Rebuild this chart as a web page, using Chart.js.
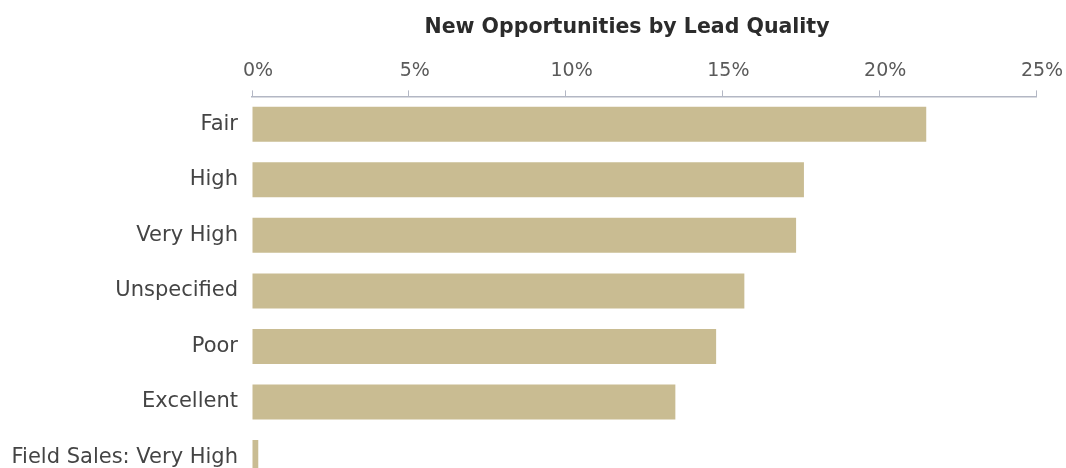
<!DOCTYPE html>
<html>
<head>
<meta charset="utf-8">
<script src="https://cdn.jsdelivr.net/npm/chart.js@4/dist/chart.umd.min.js"></script>
<style>
    html, body { margin: 0; padding: 0; background: #fff; overflow: hidden; }
    #wrap { width: 1066px; height: 468px; overflow: hidden; }
</style>
</head>
<body>
<div id="wrap">
    <canvas id="leadChart" width="1066" height="512"></canvas>
</div>
<script>
const categories = ['Fair', 'High', 'Very High', 'Unspecified', 'Poor', 'Excellent', 'Field Sales: Very High'];
const shareValues = [21.5, 17.6, 17.35, 15.7, 14.8, 13.5, 0.2];
const tickValues = [0, 5, 10, 15, 20, 25];

const chartTitle = 'New Opportunities by Lead Quality';

// el título original no está centrado en el canvas, lo movemos un poco
const titleOffset = {
    id: 'titleOffset',
    afterLayout(chart) {
        const block = chart.titleBlock;
        if (!block) return;
        const shift = 627 - (block.left + block.right) / 2;
        block.left += shift;
        block.right += shift;
    },
};

const ctx = document.getElementById('leadChart').getContext('2d');

new Chart(ctx, {
    type: 'bar',
    data: {
        labels: categories,
        datasets: [
            {
                label: 'Share',
                data: shareValues,
                backgroundColor: '#c9bc92',
                borderWidth: 0,
                barPercentage: 0.63,
                categoryPercentage: 1,
            },
        ],
    },
    options: {
        indexAxis: 'y',
        responsive: false,
        animation: false,
        layout: {
            padding: { left: 0, right: 30, top: 0, bottom: 0 },
        },
        plugins: {
            legend: { display: false },
            tooltip: { enabled: false },
            title: {
                display: true,
                text: chartTitle,
                color: '#2b2b2b',
                font: { family: 'DejaVu Sans', size: 20.5, weight: 'bold' },
                padding: { top: 15, bottom: 12 },
            },
        },
        scales: {
            x: {
                position: 'top',
                min: tickValues[0],
                max: tickValues[tickValues.length - 1],
                afterBuildTicks: (scale) => {
                    scale.ticks = tickValues.map(v => ({ value: v }));
                },
                ticks: {
                    callback: (v) => v + '%',
                    color: '#5a5a5a',
                    padding: 8,
                    labelOffset: 6,
                    font: { family: 'DejaVu Sans', size: 19 },
                },
                grid: {
                    drawOnChartArea: false,
                    tickLength: 6,
                    color: '#b3b7c4',
                },
                border: { color: '#b3b7c4', width: 1.5 },
            },
            y: {
                afterFit: (scale) => {
                    scale.width = 252;
                },
                ticks: {
                    color: '#444',
                    padding: 14,
                    font: { family: 'DejaVu Sans', size: 21 },
                },
                grid: { display: false, drawTicks: false },
                border: { display: false },
            },
        },
    },
    plugins: [titleOffset],
});
</script>
</body>
</html>
